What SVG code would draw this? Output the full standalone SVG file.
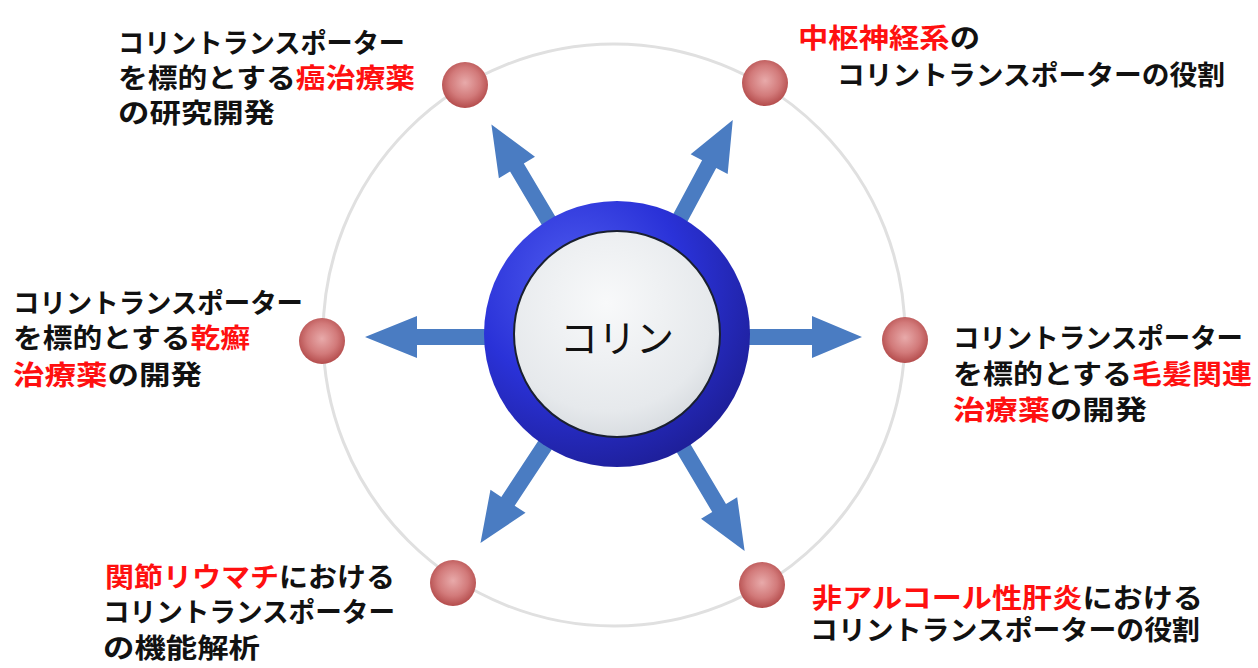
<svg xmlns="http://www.w3.org/2000/svg" width="1258" height="668" viewBox="0 0 1258 668">
<defs>
<radialGradient id="ringG" cx="0.35" cy="0.3" r="0.8">
<stop offset="0" stop-color="#4f5cf0"/>
<stop offset="0.5" stop-color="#2a32d8"/>
<stop offset="1" stop-color="#1c1c90"/>
</radialGradient>
<radialGradient id="innerG" cx="0.45" cy="0.35" r="0.75">
<stop offset="0" stop-color="#f8f9fa"/>
<stop offset="0.7" stop-color="#e6e9ec"/>
<stop offset="1" stop-color="#cfd4d9"/>
</radialGradient>
<radialGradient id="dotG" cx="0.5" cy="0.45" r="0.55">
<stop offset="0" stop-color="#e8aaaa"/>
<stop offset="0.6" stop-color="#d27a7a"/>
<stop offset="1" stop-color="#b44c4c"/>
</radialGradient>
<style>
.lbl{font-family:"Noto Sans CJK JP","Noto Sans CJK SC",sans-serif;font-size:27px;font-weight:bold;fill:#111}
.red{fill:#ff1010}
.dot{fill:url(#dotG)}
.arr{fill:#4a7cc2}
</style>
</defs>
<rect width="1258" height="668" fill="#ffffff"/>
<circle cx="614" cy="335" r="291" fill="none" stroke="#e0e0e0" stroke-width="3"/>
<g id="connectors">
<path class="arr" transform="translate(617,337) rotate(180)" d="M0,-8 H200 V-21 L252,0 L200,21 V8 H0 Z"/>
<path class="arr" transform="translate(617,337) rotate(0)" d="M0,-8 H195 V-21 L245,0 L195,21 V8 H0 Z"/>
<path class="arr" transform="translate(617,336) rotate(-120.7)" d="M0,-8 H196 V-21 L246,0 L196,21 V8 H0 Z"/>
<path class="arr" transform="translate(617,336) rotate(-61.8)" d="M0,-8 H195 V-21 L245,0 L195,21 V8 H0 Z"/>
<path class="arr" transform="translate(617,336) rotate(123.4)" d="M0,-8 H198 V-21 L248,0 L198,21 V8 H0 Z"/>
<path class="arr" transform="translate(617,336) rotate(59.3)" d="M0,-8 H200 V-21 L250,0 L200,21 V8 H0 Z"/>
</g>
<g id="center">
<circle cx="617" cy="334" r="133" fill="url(#ringG)"/>
<circle cx="617" cy="334" r="103" fill="url(#innerG)" stroke="#1a2030" stroke-width="2"/>
<text x="617" y="352" text-anchor="middle" font-family="Noto Sans CJK JP, sans-serif" font-size="38" fill="#111">コリン</text>
</g>
<g id="node-tl">
<circle class="dot" cx="465" cy="85" r="23"/>
<text class="lbl" x="118" y="53" textLength="287" lengthAdjust="spacingAndGlyphs">コリントランスポーター</text>
<text class="lbl" x="118" y="88" textLength="297" lengthAdjust="spacingAndGlyphs">を標的とする<tspan class="red">癌治療薬</tspan></text>
<text class="lbl" x="118" y="123" textLength="157" lengthAdjust="spacingAndGlyphs">の研究開発</text>
</g>
<g id="node-tr">
<circle class="dot" cx="765" cy="83" r="23"/>
<text class="lbl" x="798" y="48" textLength="182" lengthAdjust="spacingAndGlyphs"><tspan class="red">中枢神経系</tspan>の</text>
<text class="lbl" x="837" y="85" textLength="388" lengthAdjust="spacingAndGlyphs">コリントランスポーターの役割</text>
</g>
<g id="node-l">
<circle class="dot" cx="322" cy="341" r="23"/>
<text class="lbl" x="13" y="313" textLength="290" lengthAdjust="spacingAndGlyphs">コリントランスポーター</text>
<text class="lbl" x="13" y="348" textLength="237" lengthAdjust="spacingAndGlyphs">を標的とする<tspan class="red">乾癬</tspan></text>
<text class="lbl" x="13" y="385" textLength="189" lengthAdjust="spacingAndGlyphs"><tspan class="red">治療薬</tspan>の開発</text>
</g>
<g id="node-r">
<circle class="dot" cx="905" cy="340" r="23"/>
<text class="lbl" x="953" y="348" textLength="290" lengthAdjust="spacingAndGlyphs">コリントランスポーター</text>
<text class="lbl" x="953" y="384" textLength="299" lengthAdjust="spacingAndGlyphs">を標的とする<tspan class="red">毛髪関連</tspan></text>
<text class="lbl" x="953" y="420" textLength="194" lengthAdjust="spacingAndGlyphs"><tspan class="red">治療薬</tspan>の開発</text>
</g>
<g id="node-bl">
<circle class="dot" cx="453" cy="583" r="23"/>
<text class="lbl" x="105" y="587" textLength="290" lengthAdjust="spacingAndGlyphs"><tspan class="red">関節リウマチ</tspan>における</text>
<text class="lbl" x="103" y="622" textLength="292" lengthAdjust="spacingAndGlyphs">コリントランスポーター</text>
<text class="lbl" x="103" y="658" textLength="157" lengthAdjust="spacingAndGlyphs">の機能解析</text>
</g>
<g id="node-br">
<circle class="dot" cx="762" cy="585" r="23"/>
<text class="lbl" x="812" y="608" textLength="391" lengthAdjust="spacingAndGlyphs"><tspan class="red">非アルコール性肝炎</tspan>における</text>
<text class="lbl" x="810" y="640" textLength="390" lengthAdjust="spacingAndGlyphs">コリントランスポーターの役割</text>
</g>
</svg>
